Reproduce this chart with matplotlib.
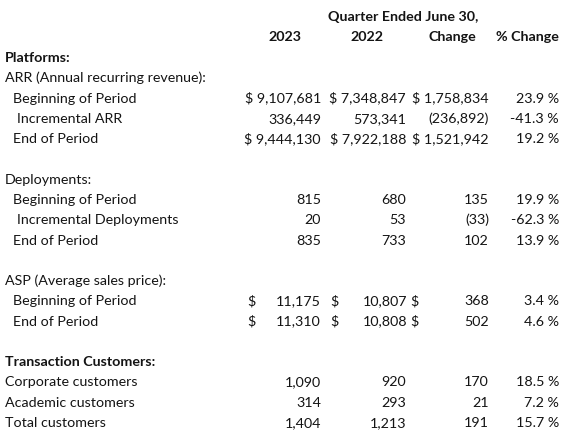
import matplotlib.pyplot as plt

# quarter ended June 30 -- 2023 vs 2022
arr_rows = ["Beginning of Period", "Incremental ARR", "End of Period"]
arr_2023 = [9107681, 336449, 9444130]
arr_2022 = [7348847, 573341, 7922188]
arr_change = [1758834, -236892, 1521942]
arr_pct = [23.9, -41.3, 19.2]

dep_rows = ["Beginning of Period", "Incremental Deployments", "End of Period"]
dep_2023 = [815, 20, 835]
dep_2022 = [680, 53, 733]
dep_change = [135, -33, 102]
dep_pct = [19.9, -62.3, 13.9]

asp_rows = ["Beginning of Period", "End of Period"]
asp_2023 = [11175, 11310]
asp_2022 = [10807, 10808]
asp_change = [368, 502]
asp_pct = [3.4, 4.6]

cust_rows = ["Corporate customers", "Academic customers", "Total customers"]
cust_2023 = [1090, 314, 1404]
cust_2022 = [920, 293, 1213]
cust_change = [170, 21, 191]
cust_pct = [18.5, 7.2, 15.7]

headers = ["2023", "2022", "Change", "% Change"]

plt.rcParams['font.family'] = ['Lato', 'DejaVu Sans']
FS = 10.3
COLOR = '#141414'

# column right edges / dollar sign positions (pixels)
col_right = [321, 406, 489, 559]
dollar_left = [247, 330, 410]
header_center = [285, 367, 452]

fig = plt.figure(figsize=(5.65, 4.33), dpi=100)
ax = fig.add_axes([0, 0, 1, 1])
ax.set_xlim(0, 565)
ax.set_ylim(433, 0)
ax.axis('off')


def txt(x, y, s, ha='left', bold=False):
    ax.text(x, y + 4, s, ha=ha, va='baseline', fontsize=FS, color=COLOR,
            fontweight='bold' if bold else 'normal')


def num(v):
    if v < 0:
        return f"({-v:,})"
    return f"{v:,}"


def pct(v):
    return f"{v:.1f} %"


# header
txt(403, 17, "Quarter Ended June 30,", ha='center', bold=True)
for i, h in enumerate(headers[:3]):
    txt(header_center[i], 37, h, ha='center', bold=True)
txt(col_right[3], 37, headers[3], ha='right', bold=True)

pitch = 20.28
y0 = 58


def ry(i):
    return y0 + i * pitch


# Platforms / ARR
txt(5, ry(0), "Platforms:", bold=True)
txt(5, ry(1), "ARR (Annual recurring revenue):")
for k in range(3):
    y = ry(2 + k)
    indent = 17 if k == 1 else 13
    txt(indent, y, arr_rows[k])
    vals = [arr_2023[k], arr_2022[k], arr_change[k]]
    for c, v in enumerate(vals):
        s = num(v)
        if k != 1:
            s = "$ " + s
        txt(col_right[c], y, s, ha='right')
    txt(col_right[3], y, pct(arr_pct[k]), ha='right')

# Deployments
txt(5, ry(6), "Deployments:")
for k in range(3):
    y = ry(7 + k)
    indent = 17 if k == 1 else 13
    txt(indent, y, dep_rows[k])
    vals = [dep_2023[k], dep_2022[k], dep_change[k]]
    for c, v in enumerate(vals):
        txt(col_right[c], y, num(v), ha='right')
    txt(col_right[3], y, pct(dep_pct[k]), ha='right')

# ASP
txt(5, ry(11), "ASP (Average sales price):")
for k in range(2):
    y = ry(12 + k)
    txt(13, y, asp_rows[k])
    vals = [asp_2023[k], asp_2022[k], asp_change[k]]
    for c, v in enumerate(vals):
        txt(dollar_left[c], y, "$")
        txt(col_right[c] if c != 1 else 407, y, num(v), ha='right')
    txt(col_right[3], y, pct(asp_pct[k]), ha='right')

# Transaction customers
txt(5, ry(15), "Transaction Customers:", bold=True)
for k in range(3):
    y = ry(16 + k)
    txt(5, y, cust_rows[k])
    vals = [cust_2023[k], cust_2022[k], cust_change[k]]
    for c, v in enumerate(vals):
        txt(col_right[c], y, num(v), ha='right')
    txt(col_right[3], y, pct(cust_pct[k]), ha='right')

fig.savefig('out.png', dpi=100)
